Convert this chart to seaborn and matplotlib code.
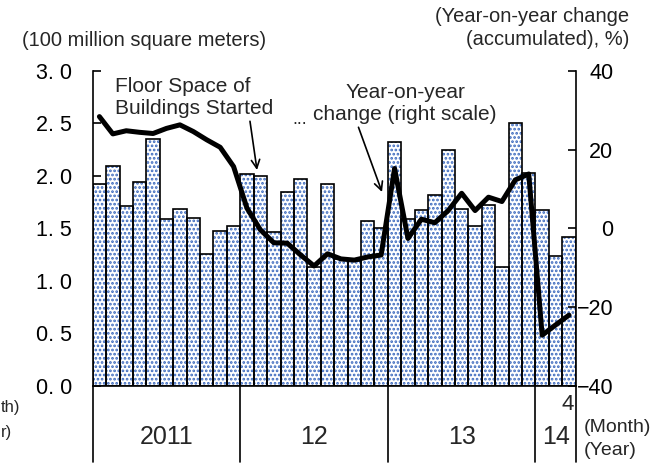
import numpy as np
import pandas as pd
import matplotlib
matplotlib.use("Agg")
import matplotlib.pyplot as plt
import matplotlib.transforms as mtrans
import seaborn as sns

# ---------------- data ----------------
years = ["2011", "12", "13", "14"]
months_per_year = [11, 11, 11, 3]   # Jan-Feb combined, then Mar..Dec
month_labels = (["2011-" + m for m in ["2", "3", "4", "5", "6", "7", "8", "9", "10", "11", "12"]]
                + ["2012-" + m for m in ["2", "3", "4", "5", "6", "7", "8", "9", "10", "11", "12"]]
                + ["2013-" + m for m in ["2", "3", "4", "5", "6", "7", "8", "9", "10", "11", "12"]]
                + ["2014-" + m for m in ["2", "3", "4"]])
floor_space = [1.92, 2.09, 1.71, 1.94, 2.35, 1.59, 1.68, 1.60, 1.25, 1.47, 1.52,
               2.02, 2.00, 1.46, 1.85, 1.97, 1.13, 1.92, 1.21, 1.19, 1.57, 1.50,
               2.32, 1.59, 1.67, 1.82, 2.25, 1.68, 1.52, 1.72, 1.13, 2.50, 2.03,
               1.67, 1.24, 1.42]
yoy = [28.4, 24.0, 24.8, 24.4, 24.1, 25.4, 26.3, 24.6, 22.5, 20.6, 15.7,
       5.1, -0.4, -3.7, -3.8, -6.8, -9.6, -6.5, -7.8, -8.1, -7.3, -6.8,
       15.2, -2.6, 2.3, 1.4, 4.5, 8.9, 4.5, 7.9, 6.8, 12.3, 13.8,
       -27.2, -24.6, -22.1]
left_ticks = [0.0, 0.5, 1.0, 1.5, 2.0, 2.5, 3.0]
left_ticklabels = ["0. 0", "0. 5", "1. 0", "1. 5", "2. 0", "2. 5", "3. 0"]
right_ticks = [-40, -20, 0, 20, 40]
right_ticklabels = ["\u221240", "\u221220", "0", "20", "40"]
last_month_label = "4"

df = pd.DataFrame({"month": month_labels, "space": floor_space, "yoy": yoy})
df["pos"] = np.arange(len(df))

# ---------------- style ----------------
sns.set_style("ticks")
plt.rcParams["font.family"] = ["Liberation Sans", "DejaVu Sans"]
plt.rcParams["hatch.linewidth"] = 1.3

W, H = 666, 465
fig = plt.figure(figsize=(W / 100, H / 100), dpi=100)
L, R, T, B = 92.7, 575.7, 71.0, 385.5
ax = fig.add_axes([L / W, 1 - B / H, (R - L) / W, (B - T) / H])

def fx(x):
    return x / W

def fy(y):
    return 1 - y / H

blue = "#3a68bd"
sns.barplot(data=df, x="month", y="space", ax=ax, width=1.0, color="white",
            saturation=1, edgecolor=blue, hatch="....", linewidth=0)
sns.barplot(data=df, x="month", y="space", ax=ax, width=1.0, fill=False,
            color="black", saturation=1, linewidth=1.2)

ax.set_xlim(-0.5, len(df) - 0.5)
ax.set_ylim(0, 3.0)
ax.set_xticks([])
ax.set_xlabel("")
ax.set_ylabel("")
ax.set_yticks(left_ticks)
ax.set_yticklabels(left_ticklabels, fontsize=15.5)
ax.tick_params(axis="y", direction="in", length=6, width=1.2, pad=15, colors="black")
for s in ["top", "right"]:
    ax.spines[s].set_visible(False)
for s in ["left", "bottom"]:
    ax.spines[s].set_linewidth(1.2)
    ax.spines[s].set_color("black")

ax2 = ax.twinx()
sns.lineplot(data=df, x="pos", y="yoy", ax=ax2, color="black", linewidth=3.6)
ax2.set_ylim(-40, 40)
ax2.set_xlim(-0.5, len(df) - 0.5)
ax2.set_yticks(right_ticks)
ax2.set_yticklabels(right_ticklabels, fontsize=15.5, ha="right")
ax2.tick_params(axis="y", direction="in", length=6, width=1.2, pad=27, colors="black")
ax2.set_ylabel("")
ax2.set_xlabel("")
for s in ["top", "left", "bottom"]:
    ax2.spines[s].set_visible(False)
ax2.spines["right"].set_linewidth(1.2)
ax2.spines["right"].set_color("black")

# ---------------- year separators & labels ----------------
trans = mtrans.blended_transform_factory(ax.transData, ax.transAxes)
bottom_ext = -(462 - B) / (B - T)
bounds = np.concatenate([[0], np.cumsum(months_per_year)]) - 0.5
for b in bounds:
    ax.plot([b, b], [0, bottom_ext], transform=trans, color="black", lw=1.2,
            clip_on=False)
year_y = -(437 - B) / (B - T)
for i, yr in enumerate(years):
    ax.text((bounds[i] + bounds[i + 1]) / 2, year_y, yr, transform=trans,
            ha="center", va="center", fontsize=18)
ax.text(bounds[-1] - 0.1, -(404 - B) / (B - T), last_month_label, transform=trans,
        ha="right", va="center", fontsize=16)

fig.text(fx(584), fy(427), "(Month)", ha="left", va="center", fontsize=14)
fig.text(fx(584), fy(450), "(Year)", ha="left", va="center", fontsize=14)
# remnants visible on the left edge
fig.text(fx(1), fy(407), "th)", ha="left", va="center", fontsize=12)
fig.text(fx(1), fy(432), "r)", ha="left", va="center", fontsize=12)

# ---------------- axis titles ----------------
fig.text(fx(22), fy(40), "(100 million square meters)", ha="left", va="center",
         fontsize=14.5)
fig.text(fx(629), fy(28), "(Year-on-year change\n(accumulated), %)", ha="right",
         va="center", fontsize=14.5, multialignment="right", linespacing=1.3)

# ---------------- annotations ----------------
def to_data_x(px):
    return (px - L) / (R - L) * len(df) - 0.5

def to_data_y(py):
    return (B - py) / (B - T) * 3.0

ax.annotate("Floor Space of\nBuildings Started",
            xy=(to_data_x(257), to_data_y(170)), xycoords="data",
            xytext=(fx(115), fy(97.5)), textcoords="figure fraction",
            ha="left", va="center", fontsize=15, linespacing=1.2,
            arrowprops=dict(arrowstyle="->", color="black", lw=1.2,
                            shrinkA=0, shrinkB=0, relpos=(0.85, 0.0)),
            annotation_clip=False)
ax.annotate("Year-on-year\nchange (right scale)",
            xy=(to_data_x(382), to_data_y(192)), xycoords="data",
            xytext=(fx(405), fy(103.5)), textcoords="figure fraction",
            ha="center", va="center", fontsize=15, linespacing=1.2,
            multialignment="center",
            arrowprops=dict(arrowstyle="->", color="black", lw=1.2,
                            shrinkA=0, shrinkB=0, relpos=(0.24, 0.0)),
            annotation_clip=False)
fig.text(fx(307), fy(119), "...", ha="right", va="center", fontsize=13)

fig.savefig("out.png", dpi=100)
